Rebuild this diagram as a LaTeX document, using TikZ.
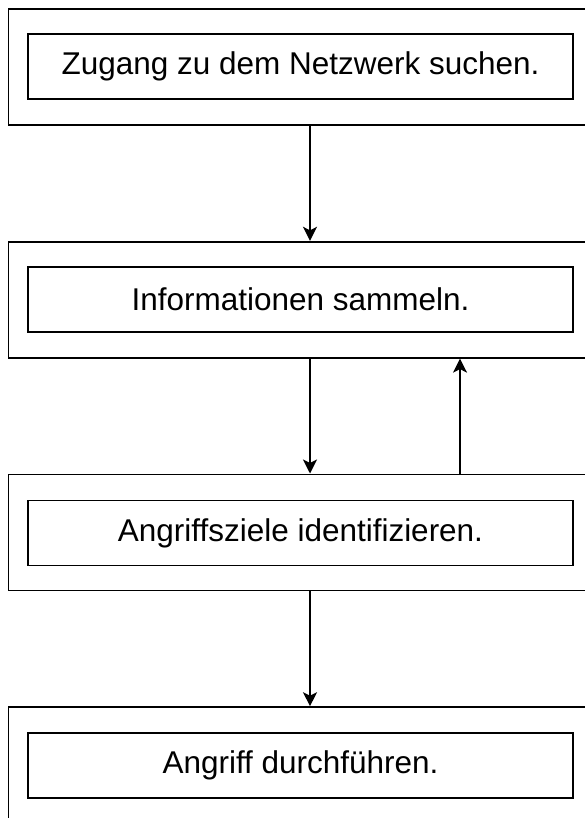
\documentclass[tikz,border=0pt]{standalone}
\usepackage{fontspec}
\setmainfont{Liberation Sans}
\usetikzlibrary{arrows.meta}
\begin{document}
\begin{tikzpicture}[x=1bp,y=-1bp,
  outerbox/.style={draw, line width=1.8bp, minimum width=584bp, minimum height=116bp, inner sep=0pt},
  innerbox/.style={draw, line width=1.8bp, minimum width=545bp, minimum height=65bp, inner sep=0pt,
    font=\fontsize{31.6}{36}\selectfont},
  flow/.style={line width=1.6bp, -{Stealth[length=14bp,width=14bp,inset=3.5bp]}}]
\useasboundingbox (0,0) rectangle (585,818);
\clip (0,0) rectangle (585,818);
% outer frames
\node[outerbox] (o1) at (300.5,67) {};
\node[outerbox] (o2) at (300.5,299.7) {};
\node[outerbox] (o3) at (300.5,532.4) {};
\node[outerbox] (o4) at (300.5,765.1) {};
% step boxes
\node[innerbox] (s1) at (300.5,66.5) {Zugang zu dem Netzwerk suchen.};
\node[innerbox] (s2) at (300.5,299.3) {Informationen sammeln.};
\node[innerbox] (s3) at (300.5,532.9) {Angriffsziele identifizieren.};
\node[innerbox] (s4) at (300.5,765.3) {Angriff durchführen.};
% connectors
\draw[flow] (o1.south -| 310,0) -- (o2.north -| 310,0);
\draw[flow] (o2.south -| 310,0) -- (o3.north -| 310,0);
\draw[flow] (o3.north -| 460,0) -- (o2.south -| 460,0);
\draw[flow] (o3.south -| 310,0) -- (o4.north -| 310,0);
\end{tikzpicture}
\end{document}
